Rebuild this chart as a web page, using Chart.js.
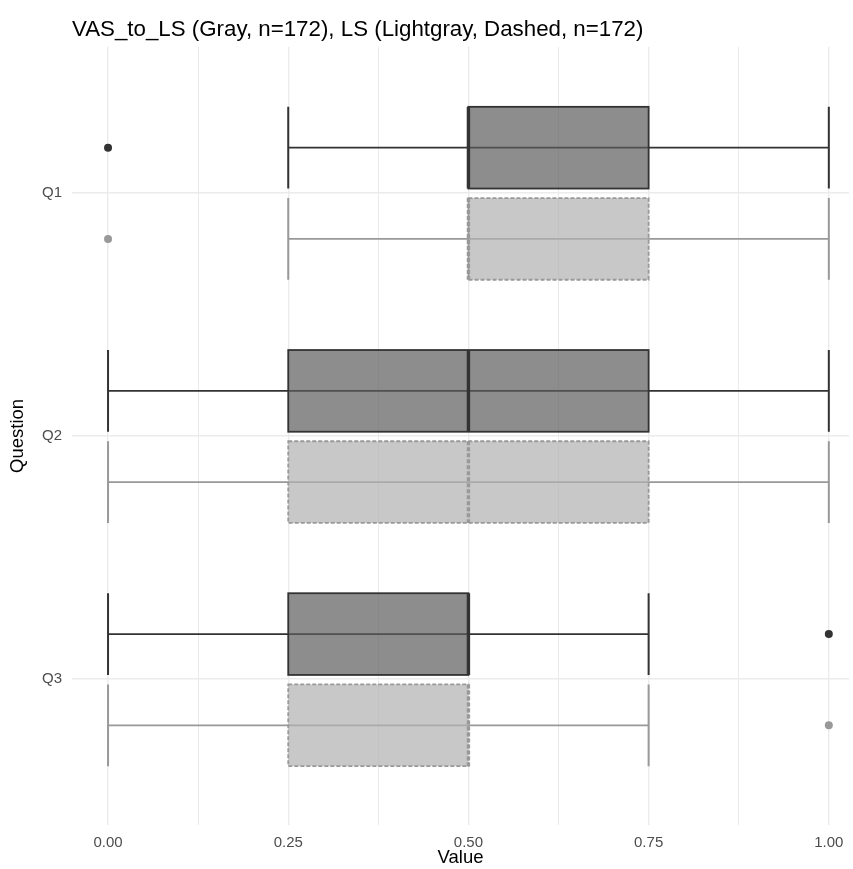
<!DOCTYPE html>
<html>
<head>
<meta charset="utf-8">
<script src="https://cdn.jsdelivr.net/npm/chart.js@4.4.1/dist/chart.umd.min.js"></script>
<style>
html, body { margin: 0; padding: 0; background: #fff; overflow: hidden; }
canvas { display: block; }
</style>
</head>
<body>
<canvas id="boxChart" width="853" height="869"></canvas>
<script>
// DATA
const categories = ["Q1", "Q2", "Q3"];

// VAS_to_LS (gray)
const vasMin = [0.25, 0, 0];
const vasQ1 = [0.5, 0.25, 0.25];
const vasMedian = [0.5, 0.5, 0.5];
const vasQ3 = [0.75, 0.75, 0.5];
const vasMax = [1, 1, 0.75];
const vasOutliers = [[0], [], [1]];

// LS (lightgray, dashed)
const lsMin = [0.25, 0, 0];
const lsQ1 = [0.5, 0.25, 0.25];
const lsMedian = [0.5, 0.5, 0.5];
const lsQ3 = [0.75, 0.75, 0.5];
const lsMax = [1, 1, 0.75];
const lsOutliers = [[0], [], [1]];

const xTicks = [0, 0.125, 0.25, 0.375, 0.5, 0.625, 0.75, 0.875, 1];
const xLabels = ["0.00", "", "0.25", "", "0.50", "", "0.75", "", "1.00"];


// dodge position + look of each group
const groups = [
  { min: vasMin, q1: vasQ1, med: vasMedian, q3: vasQ3, max: vasMax,
    offset: -0.185, line: "#333333", fill: "rgba(92,92,92,0.7)", dash: [] },
  { min: lsMin, q1: lsQ1, med: lsMedian, q3: lsQ3, max: lsMax,
    offset: 0.19, line: "#999999", fill: "rgba(176,176,176,0.7)", dash: [4, 2] }
];
const halfBox = 0.168;
const FONT = "'Liberation Sans', Arial, sans-serif";

function outlierPoints(list, offset) {
  const pts = [];
  list.forEach((vals, i) => vals.forEach(v => pts.push({ x: v, y: i + 1 + offset })));
  return pts;
}

// BOXPLOT PLUGIN
const boxPlugin = {
  id: "boxes",
  beforeDatasetsDraw(chart) {
    const ctx = chart.ctx;
    const x = chart.scales.x;
    const y = chart.scales.y;
    ctx.save();
    groups.forEach(g => {
      categories.forEach((c, i) => {
        const yc = y.getPixelForValue(i + 1 + g.offset);
        const h = Math.abs(y.getPixelForValue(i + 1 + g.offset + halfBox) - yc);
        const xMin = x.getPixelForValue(g.min[i]);
        const xMax = x.getPixelForValue(g.max[i]);
        const xQ1 = x.getPixelForValue(g.q1[i]);
        const xQ3 = x.getPixelForValue(g.q3[i]);
        const xMed = x.getPixelForValue(g.med[i]);

        // whisker line + caps
        ctx.setLineDash([]);
        ctx.strokeStyle = g.line;
        ctx.lineWidth = 1.7;
        ctx.beginPath();
        ctx.moveTo(xMin, yc);
        ctx.lineTo(xMax, yc);
        ctx.stroke();
        ctx.lineWidth = 2;
        ctx.beginPath();
        ctx.moveTo(xMin, yc - h); ctx.lineTo(xMin, yc + h);
        ctx.moveTo(xMax, yc - h); ctx.lineTo(xMax, yc + h);
        ctx.stroke();

        // box
        ctx.fillStyle = g.fill;
        ctx.fillRect(xQ1, yc - h, xQ3 - xQ1, 2 * h);
        ctx.setLineDash(g.dash);
        ctx.lineWidth = 1.8;
        ctx.strokeRect(xQ1, yc - h, xQ3 - xQ1, 2 * h);

        // median
        ctx.lineWidth = 3.4;
        ctx.beginPath();
        ctx.moveTo(xMed, yc - h);
        ctx.lineTo(xMed, yc + h);
        ctx.stroke();
      });
    });
    ctx.restore();
  }
};

const ctx = document.getElementById("boxChart").getContext("2d");

const boxChart = new Chart(ctx, {
  type: "scatter",
  data: {
    datasets: [
      { label: "VAS_to_LS outliers", data: outlierPoints(vasOutliers, groups[0].offset),
        backgroundColor: "#333333", borderWidth: 0, pointRadius: 4 },
      { label: "LS outliers", data: outlierPoints(lsOutliers, groups[1].offset),
        backgroundColor: "#999999", borderWidth: 0, pointRadius: 4 }
    ]
  },
  plugins: [boxPlugin],
  options: {
    responsive: false,
    animation: false,
    devicePixelRatio: 1,
    layout: { padding: 0 },
    plugins: {
      legend: { display: false },
      tooltip: { enabled: false },
      title: {
        display: true,
        text: "VAS_to_LS (Gray, n=172), LS (Lightgray, Dashed, n=172)",
        align: "start",
        fullSize: false,
        color: "#000000",
        font: { family: FONT, size: 22.3, weight: "normal", lineHeight: 1.2 },
        padding: { top: 16, bottom: 4 }
      }
    },
    scales: {
      x: {
        type: "linear",
        min: -0.05,
        max: 1.028,
        afterBuildTicks: s => { s.ticks = xTicks.map(v => ({ value: v })); },
        afterFit: s => { s.height = 44; s.paddingLeft = 0; s.paddingRight = 0; },
        ticks: {
          padding: 9,
          color: "#4d4d4d",
          maxRotation: 0,
          autoSkip: false,
          font: { family: FONT, size: 15 },
          callback: (v, i) => xLabels[i]
        },
        grid: {
          color: "#ebebeb",
          lineWidth: c => (c.index % 2 === 0 ? 1.4 : 1),
          drawTicks: false
        },
        border: { display: false },
        title: {
          display: true,
          text: "Value",
          color: "#000000",
          font: { family: FONT, size: 18.5 },
          padding: { top: 0, bottom: 0 }
        }
      },
      y: {
        type: "linear",
        reverse: true,
        min: 0.4,
        max: 3.6,
        afterBuildTicks: s => { s.ticks = categories.map((c, i) => ({ value: i + 1 })); },
        afterFit: s => { s.width = 72; s.paddingTop = 0; s.paddingBottom = 0; },
        ticks: {
          padding: 10,
          color: "#4d4d4d",
          font: { family: FONT, size: 15 },
          callback: (v, i) => categories[i]
        },
        grid: { color: "#ebebeb", lineWidth: 1.4, drawTicks: false },
        border: { display: false },
        title: {
          display: true,
          text: "Question",
          color: "#000000",
          font: { family: FONT, size: 18.5 },
          padding: { top: 7, bottom: 0 }
        }
      }
    }
  }
});
</script>
</body>
</html>
